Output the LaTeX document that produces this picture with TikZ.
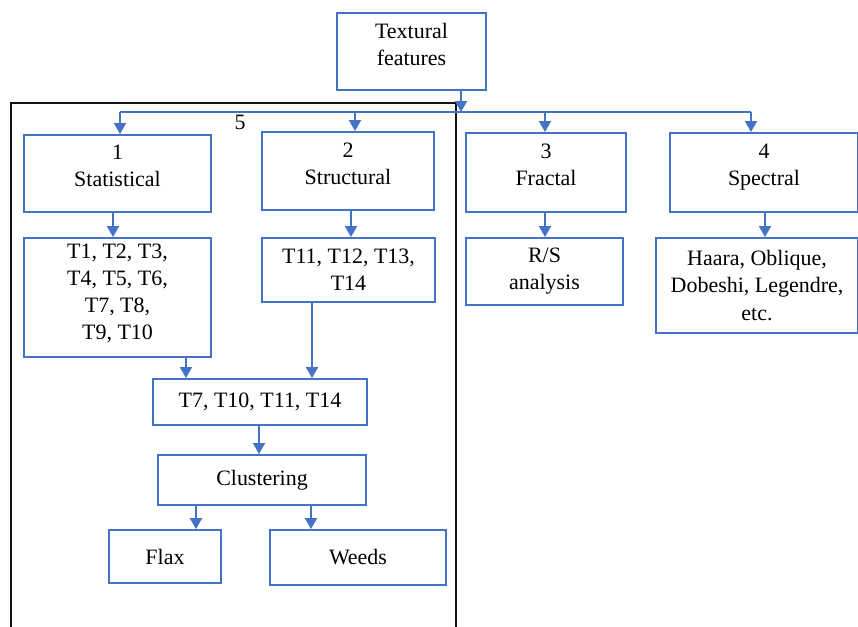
\documentclass[tikz,border=0pt]{standalone}
\usepackage{fontspec}
\setmainfont{Liberation Serif}
\usepackage{xcolor}
\usepackage{tikz}
\usetikzlibrary{calc,arrows.meta}
\definecolor{boxline}{RGB}{68,114,196}
\definecolor{frameline}{RGB}{20,20,20}
\tikzset{
  fbox/.style={draw=boxline, line width=1.1pt, fill=white, align=center,
               inner sep=0pt, font=\fontsize{12.5}{15.4}\selectfont},
  fbox lift/.style={fbox, text depth=0.3cm},
  wire/.style={draw=boxline, line width=1.1pt},
  link/.style={wire, -{Triangle[length=0.22cm,width=0.24cm]}},
  frame/.style={draw=frameline, line width=1.1pt},
}

\begin{document}
\begin{tikzpicture}[x=0.02cm, y=-0.02cm]
\useasboundingbox (0,0) rectangle (858,626);
% outer group (5), open at the bottom
\draw[frame] (11,630) |- (456,103) -- (456,630);
\node[font=\fontsize{12.5}{15.4}\selectfont] (lbl5) at (240,122) {5};
% top level
\node[fbox lift, minimum width=2.98cm, minimum height=1.54cm] (tf) at (411.5,51.5) {Textural\\features};
% the four feature groups
\node[fbox lift, minimum width=3.74cm, minimum height=1.54cm] (s1) at (117.5,173.5) {1\\Statistical};
\node[fbox lift, minimum width=3.44cm, minimum height=1.56cm] (s2) at (348,171) {2\\Structural};
\node[fbox lift, minimum width=3.20cm, minimum height=1.58cm] (s3) at (546,172.5) {3\\Fractal};
\node[fbox lift, minimum width=3.76cm, minimum height=1.58cm] (s4) at (764,172.5) {4\\Spectral};
% what each group contains
\node[fbox, text depth=0.22cm, minimum width=3.74cm, minimum height=2.38cm] (t1) at (117.5,297.5) {T1, T2, T3,\\T4, T5, T6,\\T7, T8,\\T9, T10};
\node[fbox, minimum width=3.46cm, minimum height=1.28cm] (t11) at (348.5,270) {T11, T12, T13,\\T14};
\node[fbox, minimum width=3.14cm, minimum height=1.34cm] (rs) at (544.5,271.5) {R/S\\analysis};
\node[fbox, minimum width=4.04cm, minimum height=1.90cm] (ha) at (757,285.5) {Haara, Oblique,\\Dobeshi, Legendre,\\etc.};
% selected features and classification
\node[fbox, minimum width=4.28cm, minimum height=0.92cm] (sel) at (260,402) {T7, T10, T11, T14};
\node[fbox, minimum width=4.16cm, minimum height=1.00cm] (cl) at (262,480) {Clustering};
\node[fbox, minimum width=2.24cm, minimum height=1.06cm] (flax) at (165,556.5) {Flax};
\node[fbox, minimum width=3.52cm, minimum height=1.10cm] (weeds) at (358,557.5) {Weeds};
% bus under the top box
\draw[link] ([xshift=0.99cm]tf.south) coordinate (tmp) -- (tmp |- 0,112) coordinate (bus);
\foreach \x/\n in {120/s1, 355/s2, 545/s3, 751/s4}
  \draw[link] (\x,112) coordinate (b\n) -- (b\n |- \n.north);
\draw[wire] (bs1) -- (bs4);
% vertical links between boxes
\foreach \a/\b/\dx in {s1/t1/-0.09cm, s2/t11/0.06cm, s3/rs/-0.02cm, s4/ha/0.02cm,
  t1/sel/1.37cm, t11/sel/-0.73cm, sel/cl/-0.02cm, cl/flax/-1.32cm, cl/weeds/0.98cm}
  \draw[link] ([xshift=\dx]\a.south) coordinate (tmp) -- (tmp |- \b.north);
\end{tikzpicture}
\end{document}
